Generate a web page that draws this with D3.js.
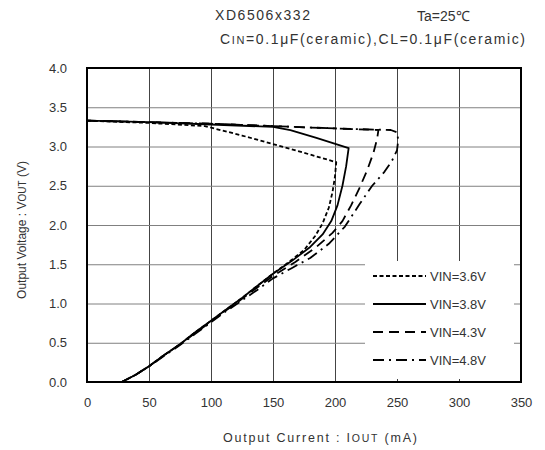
<!DOCTYPE html>
<html><head><meta charset="utf-8">
<script src="https://cdn.jsdelivr.net/npm/d3@7"></script>
<style>body{margin:0;background:#fff}svg text{font-family:"Liberation Sans",Arial,sans-serif}</style>
</head><body><svg id="c" width="545" height="450"></svg>
<script>
// Data (Output current mA, Output voltage V) along each curve
const seriesNames = ["VIN=3.6V","VIN=3.8V","VIN=4.3V","VIN=4.8V"];
const i36 = [0,50,95,125,150,175,201,200,198,195,190,184,175,163,150,137,125,112,100,87,75,62,50,39,28];
const v36 = [3.33,3.30,3.26,3.14,3.03,2.92,2.80,2.62,2.42,2.22,2.02,1.86,1.68,1.53,1.38,1.22,1.07,0.92,0.78,0.63,0.48,0.34,0.20,0.09,0];
const i38 = [0,50,100,150,164,185,211,209,206,202,197,190,180,165,150,137,125,112,100,87,75,62,50,39,28];
const v38 = [3.33,3.31,3.28,3.25,3.21,3.11,2.98,2.75,2.50,2.25,2.05,1.88,1.72,1.54,1.38,1.22,1.07,0.92,0.78,0.63,0.48,0.34,0.20,0.09,0];
const i43 = [0,50,100,150,200,235,234,231,226,220,213,206,198,185,168,150,137,125,112,100,87,75,62,50,39,28];
const v43 = [3.33,3.31,3.29,3.26,3.23,3.21,3.10,2.92,2.70,2.48,2.25,2.05,1.90,1.72,1.53,1.35,1.20,1.06,0.91,0.77,0.62,0.48,0.34,0.20,0.09,0];
const i48 = [0,50,100,150,200,245,250,251,250,246,240,230,220,208,195,180,165,150,137,125,112,100,87,75,62,50,39,28];
const v48 = [3.33,3.31,3.29,3.26,3.23,3.21,3.18,3.08,2.95,2.82,2.68,2.50,2.27,1.98,1.76,1.58,1.45,1.32,1.17,1.04,0.90,0.76,0.61,0.47,0.33,0.20,0.09,0];
const xTicks = [0,50,100,150,200,250,300,350];
const yTicks = [0,0.5,1.0,1.5,2.0,2.5,3.0,3.5,4.0];

const svg = d3.select("#c");
const L=87,R=521,T=68,B=382;
const x = d3.scaleLinear().domain([0,350]).range([L,R]);
const y = d3.scaleLinear().domain([0,4]).range([B,T]);

// grid
svg.append("g").attr("transform",`translate(0,${B})`)
  .call(d3.axisBottom(x).tickValues(xTicks).tickSize(-(B-T)).tickFormat(""))
  .call(g=>{g.select(".domain").remove();g.selectAll("line").attr("stroke","#444").attr("stroke-width",1);});
svg.append("g").attr("transform",`translate(${L},0)`)
  .call(d3.axisLeft(y).tickValues(yTicks).tickSize(-(R-L)).tickFormat(""))
  .call(g=>{g.select(".domain").remove();g.selectAll("line").attr("stroke","#808080").attr("stroke-width",1);});

// tick labels
svg.append("g").attr("transform",`translate(0,${B})`)
  .call(d3.axisBottom(x).tickValues(xTicks).tickSize(0).tickPadding(16))
  .call(g=>{g.select(".domain").remove();g.selectAll("text").attr("font-size",13).attr("fill","#333");});
svg.append("g").attr("transform",`translate(${L},0)`)
  .call(d3.axisLeft(y).tickValues(yTicks).tickSize(0).tickPadding(20).tickFormat(d3.format(".1f")))
  .call(g=>{g.select(".domain").remove();g.selectAll("text").attr("font-size",13).attr("fill","#333");});

// legend background
svg.append("rect").attr("x",365).attr("y",261).attr("width",149).attr("height",118).attr("fill","#fff");

const dashes = [ "4,2.5", null, "10,6", "11,5,2,5" ];
const data = [[i36,v36],[i38,v38],[i43,v43],[i48,v48]];
const line = d3.line().x(d=>x(d[0])).y(d=>y(d[1])).curve(d3.curveLinear);
data.forEach((s,k)=>{
  const pts = s[0].map((v,j)=>[v,s[1][j]]);
  svg.append("path").attr("d",line(pts)).attr("fill","none").attr("stroke","#000")
    .attr("stroke-width",1.8).attr("stroke-linejoin","round").attr("stroke-dasharray",dashes[k]);
});

// frame
svg.append("rect").attr("x",L).attr("y",T).attr("width",R-L).attr("height",B-T)
  .attr("fill","none").attr("stroke","#000").attr("stroke-width",2);

// legend
const ly = [276,304,332,360];
seriesNames.forEach((n,k)=>{
  svg.append("line").attr("x1",373).attr("x2",426).attr("y1",ly[k]).attr("y2",ly[k])
    .attr("stroke","#000").attr("stroke-width",1.8).attr("stroke-dasharray",dashes[k]);
  svg.append("text").attr("x",430).attr("y",ly[k]+5).attr("font-size",13).attr("fill","#333").text(n);
});

// titles
svg.append("text").attr("x",215).attr("y",20).attr("font-size",14).attr("fill","#333")
  .attr("textLength",95).text("XD6506x332");
svg.append("text").attr("x",417).attr("y",21).attr("font-size",14).attr("fill","#333").text("Ta=25℃");
const st = svg.append("text").attr("x",220).attr("y",44).attr("font-size",14).attr("fill","#333")
  .attr("textLength",305);
st.append("tspan").text("C");
st.append("tspan").attr("font-size",11).text("IN");
st.append("tspan").text("=0.1μF(ceramic),CL=0.1μF(ceramic)");

// axis titles
const xt = svg.append("text").attr("x",320).attr("y",442).attr("text-anchor","middle")
  .attr("font-size",12.5).attr("fill","#333").attr("textLength",194);
xt.append("tspan").text("Output Current : I");
xt.append("tspan").attr("font-size",10.5).text("OUT");
xt.append("tspan").text(" (mA)");
const yt = svg.append("text").attr("transform","translate(26,230) rotate(-90)").attr("text-anchor","middle")
  .attr("font-size",12).attr("fill","#333");
yt.append("tspan").text("Output Voltage : V");
yt.append("tspan").attr("font-size",10).text("OUT");
yt.append("tspan").text(" (V)");
</script></body></html>
